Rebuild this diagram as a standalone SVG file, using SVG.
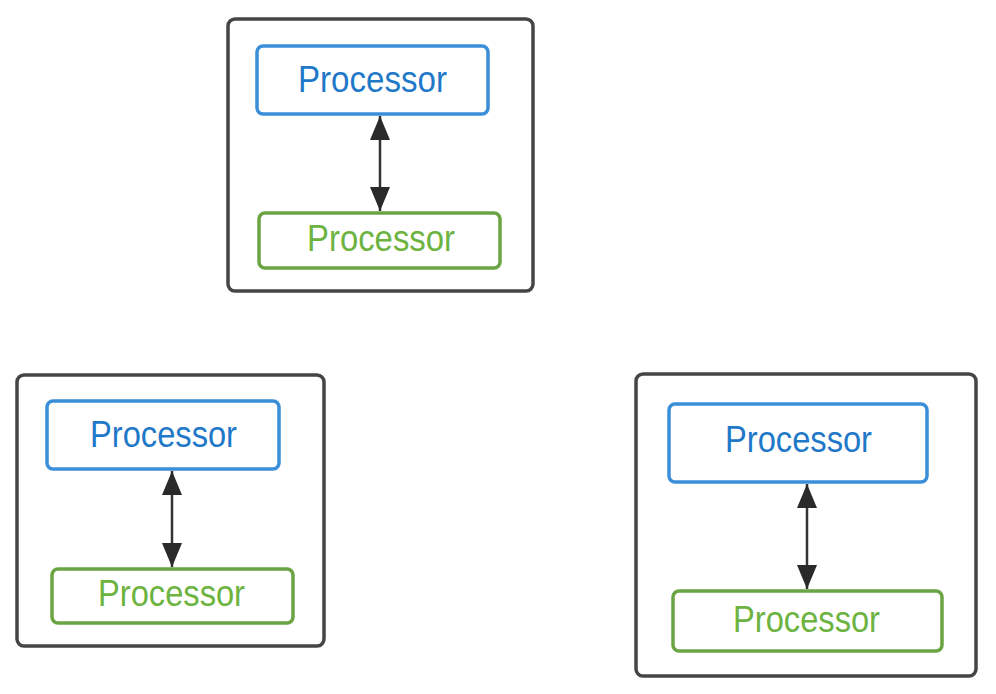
<svg xmlns="http://www.w3.org/2000/svg" width="996" height="694" viewBox="0 0 996 694">
<style>
.outer{fill:#fff;stroke:#454545;stroke-width:3.5}
.blue{fill:#fff;stroke:#3b8fd8;stroke-width:3.5}
.green{fill:#fff;stroke:#6aa443;stroke-width:3.5}
.t{font-family:"Liberation Sans",Arial,sans-serif;font-size:36px;text-anchor:middle}
.tb{fill:#1f78c8}
.tg{fill:#6db33f}
.conn{stroke:#333;stroke-width:2.5;fill:none;marker-start:url(#ah);marker-end:url(#ah)}
</style>
<defs>
<marker id="ah" viewBox="0 0 24 20" refX="24" refY="10" markerWidth="24" markerHeight="20" markerUnits="userSpaceOnUse" orient="auto-start-reverse">
<path d="M0,0 L24,10 L0,20 z" fill="#2a2a2a"/>
</marker>
</defs>
<rect width="996" height="694" fill="#fff"/>
<g id="frame-top"><rect class="outer" x="228" y="19" width="305" height="272" rx="7"/></g>
<g id="frame-left"><rect class="outer" x="17" y="375" width="307" height="271" rx="7"/></g>
<g id="frame-right"><rect class="outer" x="636" y="374" width="340" height="302" rx="7"/></g>
<g id="top-blue"><rect class="blue" x="257" y="46" width="231" height="68" rx="6"/><text class="t tb" x="372.5" y="92" textLength="149" lengthAdjust="spacingAndGlyphs">Processor</text></g>
<g id="top-green"><rect class="green" x="259" y="213" width="241" height="55" rx="6"/><text class="t tg" x="381" y="251" textLength="148" lengthAdjust="spacingAndGlyphs">Processor</text></g>
<g id="left-blue"><rect class="blue" x="47" y="401" width="232" height="68" rx="6"/><text class="t tb" x="163.5" y="447" textLength="147" lengthAdjust="spacingAndGlyphs">Processor</text></g>
<g id="left-green"><rect class="green" x="52" y="569" width="241" height="54" rx="6"/><text class="t tg" x="171.5" y="606" textLength="147" lengthAdjust="spacingAndGlyphs">Processor</text></g>
<g id="right-blue"><rect class="blue" x="669" y="404" width="258" height="78" rx="6"/><text class="t tb" x="798.5" y="452" textLength="147" lengthAdjust="spacingAndGlyphs">Processor</text></g>
<g id="right-green"><rect class="green" x="673" y="591" width="269" height="60" rx="6"/><text class="t tg" x="806.5" y="632" textLength="147" lengthAdjust="spacingAndGlyphs">Processor</text></g>
<g id="connectors">
<line class="conn" x1="380" y1="116" x2="380" y2="211"/>
<line class="conn" x1="172" y1="471" x2="172" y2="567"/>
<line class="conn" x1="807" y1="484" x2="807" y2="589"/>
</g>
</svg>
